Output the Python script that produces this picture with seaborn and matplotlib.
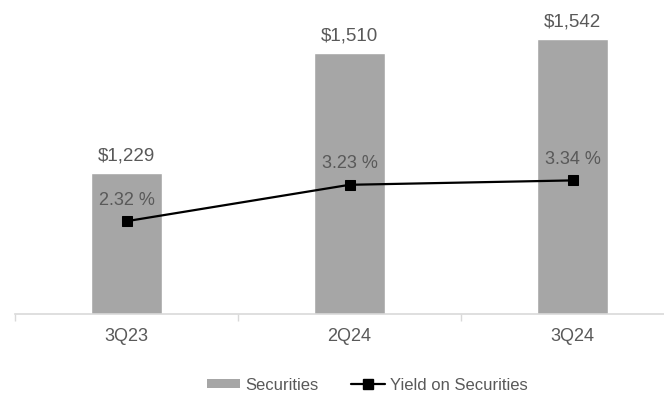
import pandas as pd
import numpy as np
import matplotlib.pyplot as plt
import seaborn as sns
from matplotlib.patches import Patch
from matplotlib.lines import Line2D

# Chart values
quarters = ['3Q23', '2Q24', '3Q24']
securities = [1229, 1510, 1542]          # $ millions
yields = [2.32, 3.23, 3.34]              # %

df = pd.DataFrame({'Quarter': quarters, 'Securities': securities, 'Yield': yields})

sns.set_style('white')
plt.rcParams['font.family'] = ['Liberation Sans', 'DejaVu Sans']

bar_color = '#A6A6A6'
text_color = '#595959'
axis_color = '#D9D9D9'

fig = plt.figure(figsize=(6.64, 3.93), dpi=100)
# plot area runs a little past the right edge, like the cropped original
ax = fig.add_axes([15 / 664, 79 / 393, 669 / 664, 300 / 393])

# Bars on the primary axis
sns.barplot(x='Quarter', y='Securities', data=df, color=bar_color,
            width=0.315, saturation=1, ax=ax)
ax.set_ylim(900, 1600)
ax.set_xlim(-0.5, 2.5)
ax.bar_label(ax.containers[0], labels=[f'${v:,.0f}' for v in securities],
             padding=6, fontsize=13.5, color=text_color)

# Axis cosmetics
for side in ['top', 'left', 'right']:
    ax.spines[side].set_visible(False)
ax.spines['bottom'].set_color(axis_color)
ax.spines['bottom'].set_linewidth(1.2)
ax.set_yticks([])
ax.set_xlabel('')
ax.set_ylabel('')
ax.tick_params(axis='x', which='major', length=0, pad=10, labelsize=13, labelcolor=text_color)
ax.set_xticks(np.arange(-0.5, 3, 1), minor=True)
ax.tick_params(axis='x', which='minor', bottom=True, direction='out', length=5,
               width=1, color=axis_color)

# Yield line on a secondary axis
ax2 = ax.twinx()
sns.lineplot(x=np.arange(len(quarters)), y=df['Yield'], ax=ax2, color='black',
             linewidth=1.6, marker='s', markersize=7.5, markeredgecolor='black')
ax2.set_ylim(0, 7.5)
ax2.set_yticks([])
ax2.set_ylabel('')
for side in ['top', 'left', 'right', 'bottom']:
    ax2.spines[side].set_visible(False)

for i, y in enumerate(yields):
    ax2.annotate(f'{y:.2f} %', (i, y), xytext=(0, 15), textcoords='offset points',
                 ha='center', va='center', fontsize=13, color=text_color)

# Legend under the chart
handles = [Patch(facecolor=bar_color, edgecolor='none'),
           Line2D([0], [0], color='black', linewidth=1.6, marker='s', markersize=6.5)]
fig.legend(handles, ['Securities', 'Yield on Securities'], loc='center',
           bbox_to_anchor=(367 / 664, 1 - 385 / 393), ncol=2, frameon=False,
           fontsize=12, labelcolor=text_color, handlelength=2.0, handleheight=0.45,
           handletextpad=0.3, columnspacing=2.0)

fig.savefig('out.png', dpi=100)
